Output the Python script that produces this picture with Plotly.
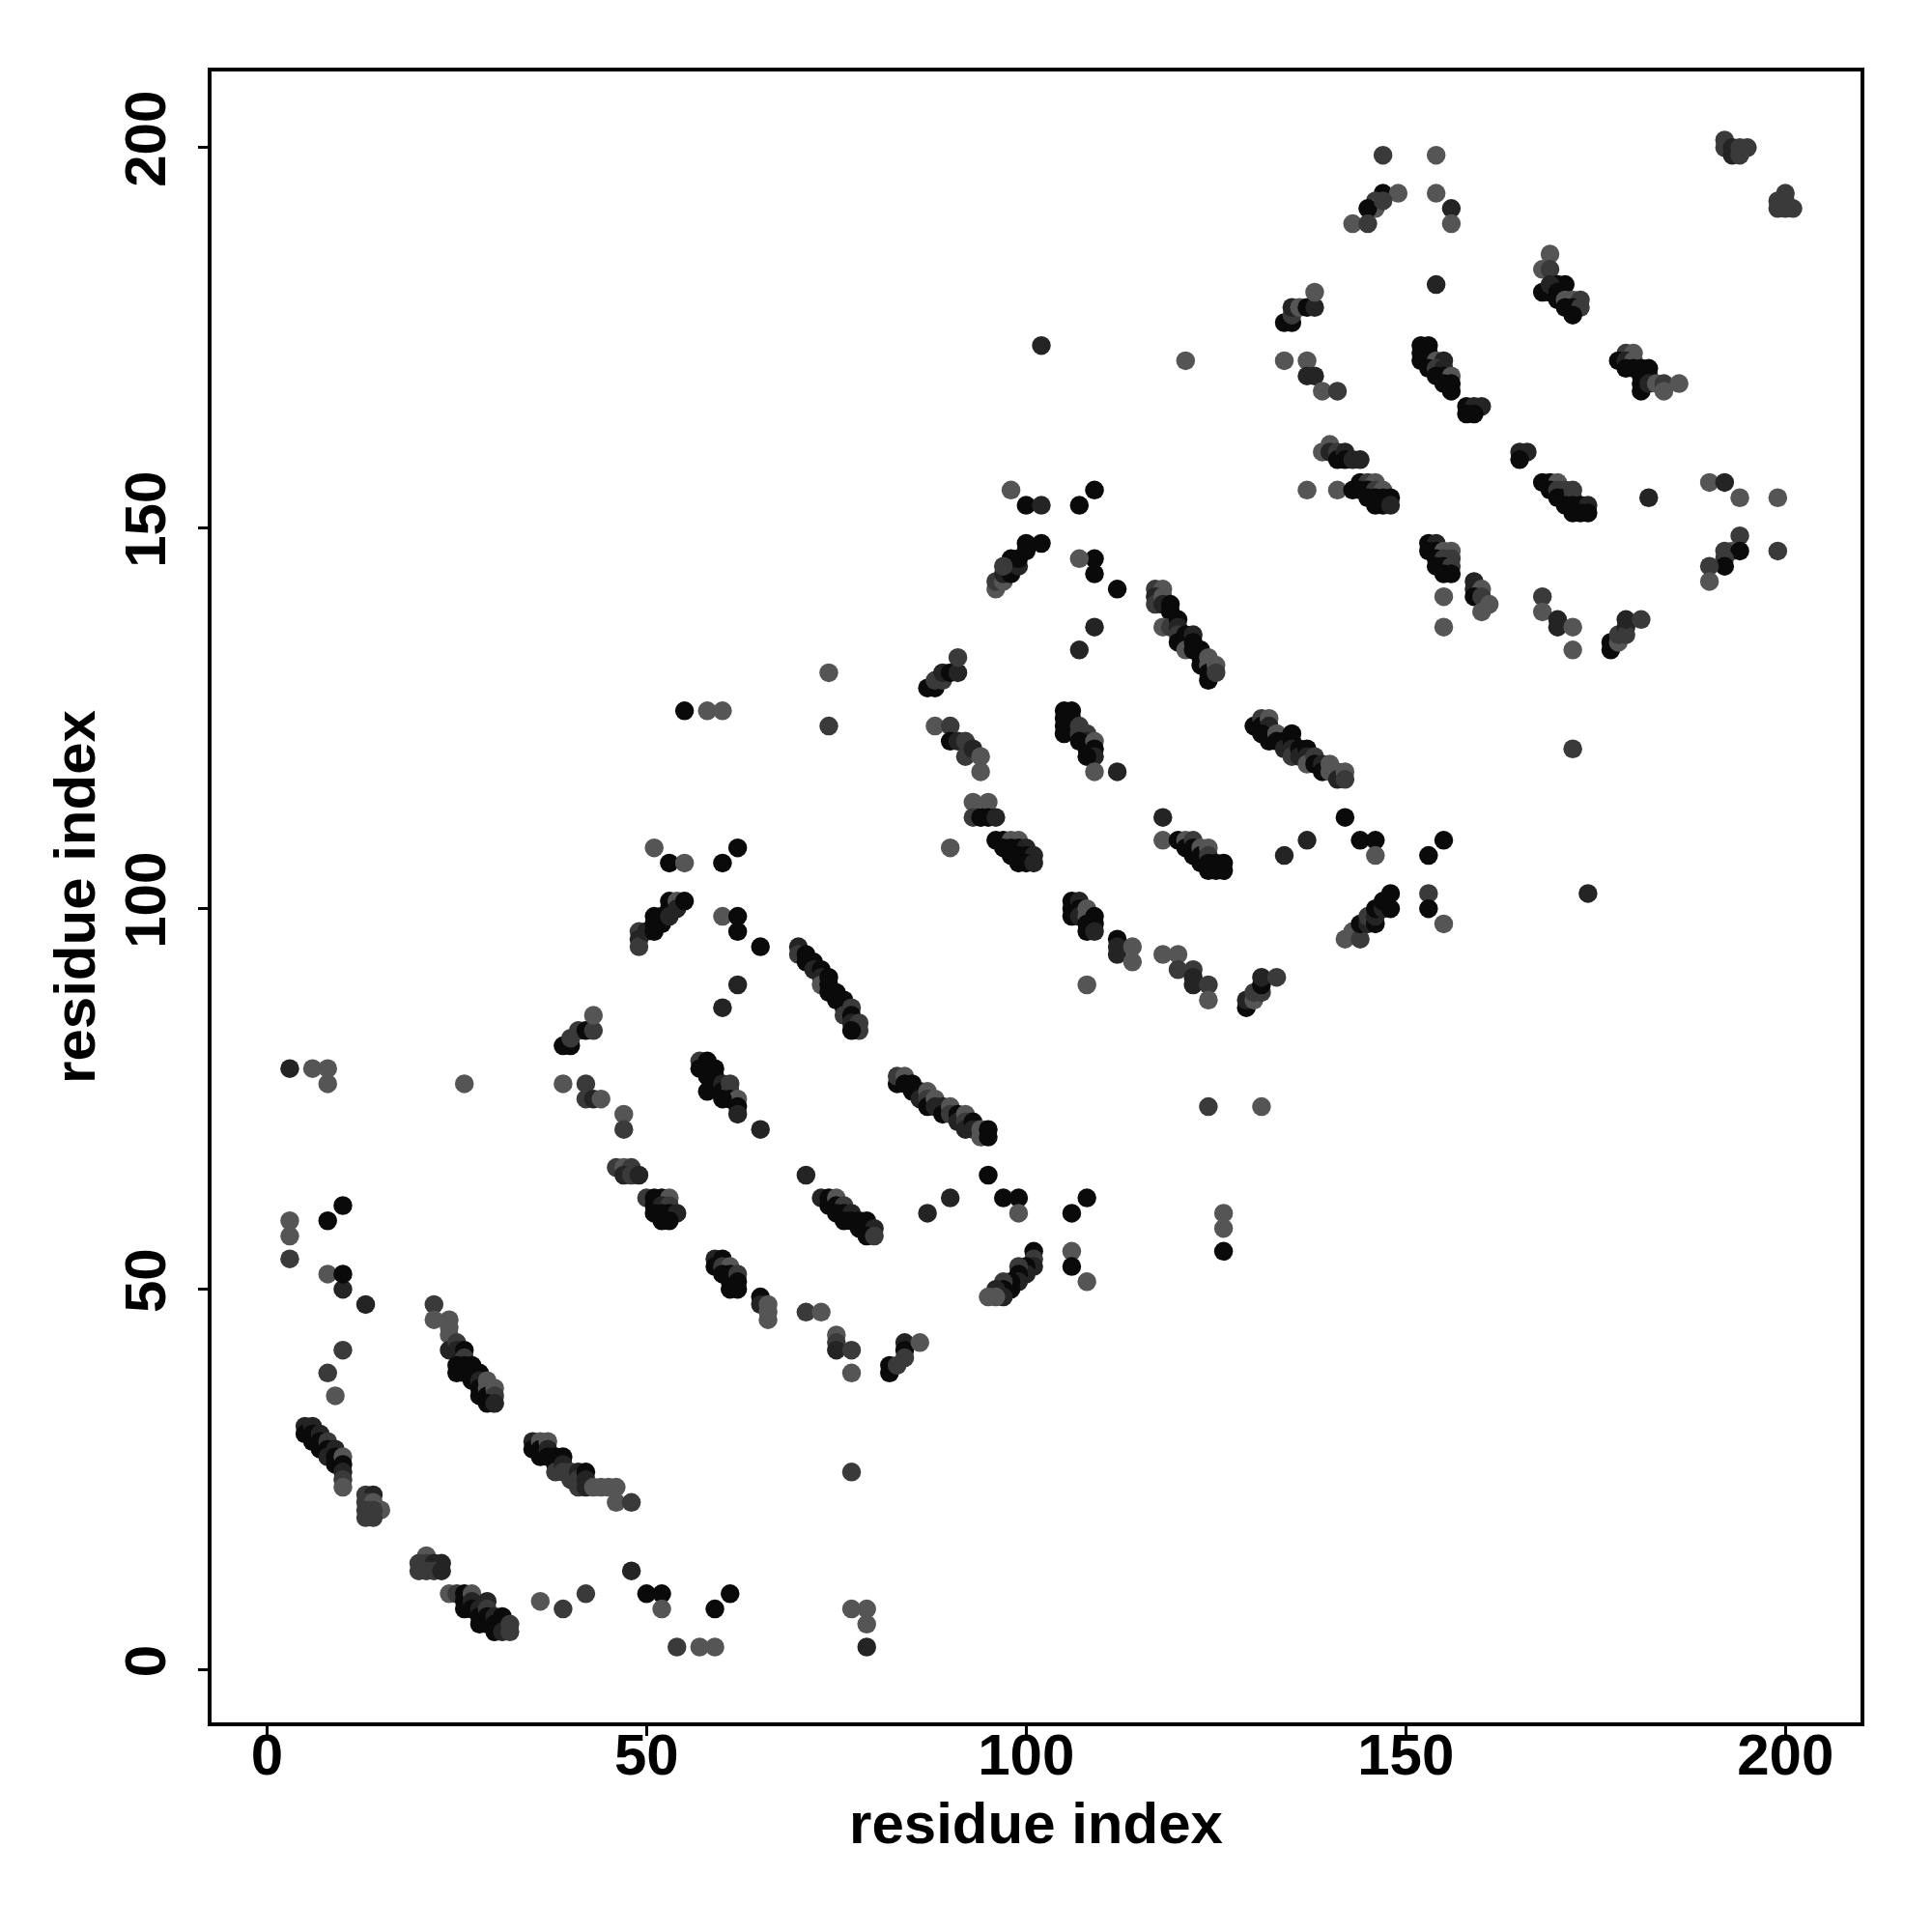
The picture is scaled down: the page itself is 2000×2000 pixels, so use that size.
import plotly.graph_objects as go

# shade codes: 0 = near black, 1 = dark, 2 = mid grey, 3 = light grey
shade_colors = ["#0a0a0a", "#242424", "#3a3a3a", "#555555"]

# (residue i, residue j, shade) -- N-terminal region
contacts_n = [
    (5,32,1),(5,31,0),(6,32,1),(6,31,0),(6,30,0),(7,31,1),(7,30,0),(7,29,0),(8,30,2),(8,29,0),(8,28,1),(9,29,1),(9,28,0),(9,27,0),(10,28,3),(10,27,0),(10,26,1),(10,25,2),(10,24,3),
    (13,23,2),(14,23,1),(13,22,2),(14,22,3),(15,21,3),(13,21,2),(14,21,2),(13,20,2),(14,20,2),
    (21,15,3),(20,14,2),(21,14,2),(22,14,1),(23,14,1),(20,13,2),(21,13,2),(22,13,2),(23,13,1),
    (24,10,3),(25,10,2),(26,10,0),(26,9,0),(26,8,0),(27,10,3),(27,9,1),(27,8,0),(28,8,1),(28,7,0),(28,6,0),(29,9,1),(29,8,2),(29,7,0),(29,6,0),(30,7,1),(30,6,0),(30,5,0),(31,7,0),(31,6,0),(31,5,1),(32,6,2),(32,5,2),
    (22,48,2),(22,46,3),(24,46,3),(24,45,3),(24,44,3),(24,42,1),(25,43,2),(25,42,1),(26,42,0),(26,41,2),(25,40,0),(26,40,0),(25,39,0),(26,39,0),(27,40,0),(27,39,0),(27,38,0),(28,39,0),(28,38,1),(28,37,0),(28,36,0),(29,38,3),(29,37,3),(29,36,0),(30,37,3),(30,36,2),(29,35,0),(30,35,1),
    (35,30,1),(35,29,0),(36,30,3),(36,29,0),(36,28,0),(37,30,3),(37,29,1),(37,28,0),(38,28,0),(38,27,0),(38,26,2),(39,28,0),(39,27,1),(39,26,2),(40,26,2),(40,25,2),(41,26,1),(41,25,2),(41,24,2),(42,26,0),(42,25,1),(42,24,1),(43,24,3),(44,24,3),(45,24,3),(46,24,3),(46,22,3),(48,22,2),
    (36,9,3),(39,8,2),(42,10,2),(48,13,1),(50,10,0),(52,10,0),(52,8,3),(54,3,2),(57,3,3),(59,3,3),(59,8,0),(61,10,0),(77,8,3),(79,8,3),(79,6,3),(79,3,1),(77,26,2),
    (10,42,2),(8,39,2),(9,36,3),(10,50,1),(13,48,1),(3,79,1),(6,79,3),(8,79,3),(8,77,3),(3,59,3),(3,57,3),(3,54,2),(8,59,0),(10,61,0),(8,52,3),(10,52,0),(26,77,3),
    (39,82,0),(40,82,0),(40,83,2),(41,84,2),(42,84,0),(43,84,2),(43,86,3),
    (39,77,3),(42,77,2),(42,75,2),(43,75,1),(44,75,3),(47,73,3),(47,71,2),
    (46,66,2),(47,66,3),(48,66,2),(47,65,1),(48,65,2),(49,65,1),
]

# middle region
contacts_mid = [
    (49,97,2),(49,96,1),(49,95,2),(50,97,1),(51,99,0),(51,98,0),(51,97,0),(52,99,0),(52,98,0),(53,101,0),(53,100,0),(53,99,1),(54,101,3),(54,100,1),(55,101,0),
    (60,99,3),(62,99,0),(62,97,0),(65,95,0),(62,90,1),(60,87,1),
    (70,95,1),(70,94,2),(71,94,0),(71,93,0),(72,93,0),(72,92,1),(73,92,0),(73,91,1),(73,90,3),(74,91,0),(74,90,0),(74,89,0),(75,89,0),(75,88,0),(76,88,0),(76,87,0),(76,86,2),(77,87,2),(77,86,0),(77,85,1),(78,85,2),(78,84,2),(77,84,0),
    (57,80,2),(57,79,0),(58,80,0),(58,79,0),(58,78,0),(58,76,0),(59,79,0),(59,78,0),(59,77,0),(60,77,1),(60,76,0),(61,77,2),(61,76,2),(61,75,0),(62,75,3),(62,74,0),(62,73,1),(60,75,0),
    (65,71,1),
    (83,77,0),(83,78,2),(84,78,3),(84,77,0),(85,77,0),(85,76,0),(86,76,0),(86,75,1),(87,76,3),(87,75,2),(87,74,0),(88,75,3),(88,74,1),(89,74,1),(89,73,0),(90,74,3),(90,73,2),(91,73,0),(91,72,1),(92,73,3),(92,72,2),(92,71,1),(93,72,0),(93,71,1),(94,71,3),(94,70,3),(95,71,0),(95,70,0),
    (71,65,1),
    (73,62,1),(74,62,0),(74,61,0),(75,62,3),(75,61,0),(76,61,2),(75,60,0),(76,60,0),(77,60,1),(76,59,0),(77,59,0),(78,59,0),(78,58,0),(79,58,0),(79,59,0),(80,58,1),(79,57,0),(80,57,2),
    (87,60,1),(90,62,1),(95,65,0),(97,62,0),(99,62,0),(99,60,3),
    (101,55,0),(101,54,2),(101,53,1),(100,53,0),(100,52,1),(99,53,2),(99,52,0),(99,51,1),(98,51,0),(98,50,0),(97,51,2),(97,50,0),(97,49,1),(96,50,1),(96,49,3),(95,49,3),
    (50,62,2),(51,62,0),(52,62,0),(53,62,3),(51,61,0),(52,61,1),(53,61,2),(51,60,0),(52,60,0),(53,60,0),(54,60,1),(52,59,0),(53,59,0),
    (59,54,1),(59,53,0),(60,54,0),(60,53,2),(61,53,3),(60,52,0),(61,52,0),(61,51,0),(62,52,2),(62,51,0),(62,50,0),(61,50,0),
    (65,49,0),(65,48,1),(66,48,3),(66,47,3),(66,46,3),(71,47,2),(73,47,3),(75,44,3),(75,43,2),(75,42,1),(77,42,2),(77,39,3),(82,40,0),(82,39,0),(83,40,2),(84,43,1),(84,42,0),(84,41,2),(86,43,3),
    (98,155,3),(100,153,0),(102,153,1),(100,148,0),(102,148,0),
    (96,142,3),(96,143,2),(97,143,3),(97,144,1),(98,144,0),(98,145,0),(99,145,1),(99,146,0),(100,147,0),(98,146,0),(97,145,2),
    (74,131,3),(74,124,2),(55,126,0),(58,126,3),(60,126,3),
    (87,129,0),(88,129,0),(88,130,2),(89,130,2),(89,131,1),(90,131,0),(91,131,1),(91,133,2),
    (88,124,3),(90,124,2),(90,122,0),(91,122,1),(92,122,2),(92,120,2),(93,121,1),(94,120,3),(94,118,3),
    (93,114,3),(95,114,3),(93,112,2),(94,112,0),(95,112,0),(96,112,1),(90,108,3),
    (96,109,0),(97,109,0),(98,109,3),(99,109,3),(97,108,0),(98,108,0),(99,108,0),(100,108,1),(98,107,0),(99,107,0),(100,107,0),(101,107,1),(99,106,0),(100,106,0),(101,106,1),
    (51,108,3),(53,106,0),(55,106,3),(60,106,0),(62,108,0),
]

# C-terminal region
contacts_c = [
    (106,101,0),(106,100,0),(106,99,0),(107,101,1),(107,100,0),(107,99,1),(108,100,3),(108,99,3),(108,98,0),(108,97,0),(109,99,0),(109,98,0),(109,97,1),
    (112,96,0),(112,95,1),(112,94,1),(114,95,3),(114,93,3),
    (118,94,3),(120,94,3),(120,92,2),(122,92,2),(122,91,1),(122,90,1),(124,90,2),(124,88,3),
    (129,87,0),(129,88,1),(130,88,3),(130,89,2),(131,89,2),(131,90,0),(131,91,1),(133,91,2),
    (108,90,3),
    (142,96,3),(143,97,3),(144,96,2),(144,98,0),(145,98,1),(145,99,2),(146,98,0),(146,99,1),(146,100,0),(147,100,1),(147,101,0),(148,100,0),(148,102,0),
    (153,102,2),(153,100,0),(155,98,3),
    (124,74,2),(131,74,3),(126,60,3),(126,58,3),(126,55,0),
    (108,62,0),(106,60,0),(106,55,3),(106,53,0),(108,51,3),
    (109,155,0),(107,153,0),(109,146,0),(107,146,3),(109,144,0),(112,142,0),(109,137,1),(107,134,1),
    (117,142,2),(118,142,3),(117,141,1),(117,140,2),(118,141,3),(118,140,1),(119,140,0),(119,139,0),(118,137,3),(119,137,2),(120,138,0),(120,137,1),(120,136,2),(120,135,0),(121,136,0),(121,135,0),(121,134,3),(122,136,1),(122,135,0),(122,134,0),(123,134,0),(123,133,0),(123,132,0),(124,133,3),(124,132,3),(124,131,0),(124,130,0),(125,132,3),(125,131,2),
    (105,126,0),(106,126,0),(105,125,0),(106,125,0),(105,124,0),(106,124,0),(105,123,0),(107,124,2),(107,123,2),(108,123,2),(108,122,1),(107,122,0),(108,121,0),(109,122,3),(109,121,0),(109,120,1),(108,120,0),(109,118,3),(112,118,1),
    (130,124,0),(131,125,2),(131,124,0),(132,125,3),(132,124,1),(131,123,0),(132,122,0),(133,123,3),(133,122,0),(134,122,0),(134,121,1),(135,123,0),(135,122,0),(135,121,1),(135,120,2),(136,121,0),(136,120,1),(137,121,0),(137,120,1),(137,119,3),(138,120,2),(138,119,0),(139,119,1),(139,118,0),(140,119,3),(140,118,3),(141,118,3),(141,117,1),(142,118,3),(142,117,2),
    (118,112,1),
    (118,109,3),(120,109,0),(121,109,3),(121,108,0),(122,109,2),(122,108,0),(122,107,0),(123,108,3),(123,107,0),(123,106,0),(124,108,3),(124,107,2),(124,106,0),(124,105,0),(125,106,0),(125,105,0),(126,106,0),(126,105,0),
    (134,107,1),(137,109,1),(142,112,0),(144,109,0),(146,109,0),(146,107,3),(155,109,0),(153,107,0),
    (137,155,3),(141,155,3),
    (143,155,0),(144,156,0),(145,156,2),(146,156,3),(144,155,0),(145,155,0),(146,155,2),(147,155,3),(145,154,0),(146,154,0),(147,154,0),(148,154,0),(146,153,0),(147,153,0),(148,153,1),
    (139,160,3),(140,161,3),(140,160,1),(141,160,2),(141,159,0),(142,160,1),(142,159,0),(143,159,1),(144,159,1),
    (153,148,0),(154,148,1),(153,147,0),(154,147,0),(155,147,3),(156,147,3),(154,146,0),(155,146,2),(156,146,2),(154,145,0),(155,145,0),(156,145,2),(155,144,0),(156,144,0),
    (155,141,3),(155,137,3),
    (102,174,1),(121,172,3),(134,172,3),(137,172,3),(137,170,1),(138,170,1),(139,168,3),(141,168,2),
    (134,177,0),(135,177,0),(135,178,2),(135,179,1),(136,179,3),(137,179,0),(138,179,1),(138,181,3),
    (147,199,2),(154,199,3),(147,194,0),(149,194,3),(146,193,2),(146,192,3),(145,192,0),(147,193,2),(143,190,3),(145,190,2),(154,194,3),(156,192,1),(156,190,3),(154,182,1),
    (152,174,0),(153,174,0),(152,173,0),(153,173,0),(152,172,0),(153,172,0),(154,172,3),(155,172,1),(153,171,0),(154,171,2),(155,171,1),(154,170,0),(155,170,0),(156,170,3),(155,169,0),(156,169,0),(156,168,0),
    (192,201,2),(192,200,2),(193,200,1),(193,199,1),(194,200,2),(194,199,2),(195,200,2),
    (199,193,2),(199,192,2),(200,194,2),(200,193,2),(200,192,2),(201,192,2),
    (169,186,3),(168,184,3),(169,184,2),(170,182,0),(171,182,0),(168,181,0),(169,181,0),(169,182,1),(170,181,0),(170,180,0),(171,180,3),(172,180,3),(173,180,2),(171,179,0),(172,179,0),(173,179,2),(172,178,0),
    (179,173,2),(180,173,3),(178,172,0),(179,172,1),(180,172,3),(179,171,0),(180,171,0),(181,171,0),(182,171,0),(181,170,0),(182,170,0),(181,169,0),(181,168,0),(182,169,1),(183,169,3),(184,169,2),(184,168,3),(186,169,3),
    (158,166,0),(159,166,1),(160,166,1),(159,165,0),(158,165,0),
    (165,160,1),(166,160,1),(165,159,0),
    (168,156,0),(169,156,0),(170,156,3),(169,155,0),(170,155,2),(171,155,2),(170,154,0),(171,154,0),(172,155,2),(172,154,2),(171,153,0),(172,153,0),(173,153,0),(174,153,1),(173,152,0),(174,152,0),(172,152,0),
    (182,154,1),(190,156,3),(192,156,1),(194,154,3),(199,154,3),
    (194,149,2),(193,147,3),(192,147,2),(194,147,0),(192,146,2),(192,145,0),(190,145,2),(190,143,3),(199,147,2),
    (159,143,1),(159,142,1),(160,142,3),(159,141,0),(160,141,2),(161,140,3),(160,139,3),
    (168,141,2),(168,139,3),(170,138,1),(170,137,1),(172,137,3),(172,134,3),
    (177,134,0),(177,135,0),(178,135,3),(178,136,2),(179,137,1),(179,136,2),(179,138,1),(181,138,2),
    (172,121,2),(174,102,1),
]

tick_vals = [0, 50, 100, 150, 200]
axis_title = "residue index"

all_contacts = contacts_n + contacts_mid + contacts_c
xs = [c[0] for c in all_contacts]
ys = [c[1] for c in all_contacts]
cols = [shade_colors[c[2]] for c in all_contacts]

fig = go.Figure(go.Scatter(
    x=xs, y=ys, mode="markers",
    marker=dict(size=19.5, color=cols, line=dict(width=0)),
    showlegend=False, hoverinfo="skip",
))

font_main = dict(family="Liberation Sans, Arial, Helvetica, sans-serif", size=60, color="black", weight="bold")

axis_common = dict(
    tickvals=tick_vals, ticktext=[str(v) for v in tick_vals],
    showgrid=False, zeroline=False,
    showline=True, linecolor="black", linewidth=4, mirror=True,
    ticks="outside", ticklen=10, tickwidth=3, tickcolor="black",
    tickfont=font_main,
)

fig.update_layout(
    width=2000, height=2000,
    margin=dict(l=211, r=82, t=66, b=225, autoexpand=False),
    paper_bgcolor="white", plot_bgcolor="white",
    xaxis=dict(range=[-7.3, 209.9], ticklabelstandoff=-32,
               title=dict(text=axis_title, font=font_main, standoff=18), **axis_common),
    yaxis=dict(range=[-6.9, 210.0], tickangle=-90, ticklabelstandoff=10,
               title=dict(text=axis_title, font=font_main, standoff=0), **axis_common),
)

fig.write_html("out.html")
